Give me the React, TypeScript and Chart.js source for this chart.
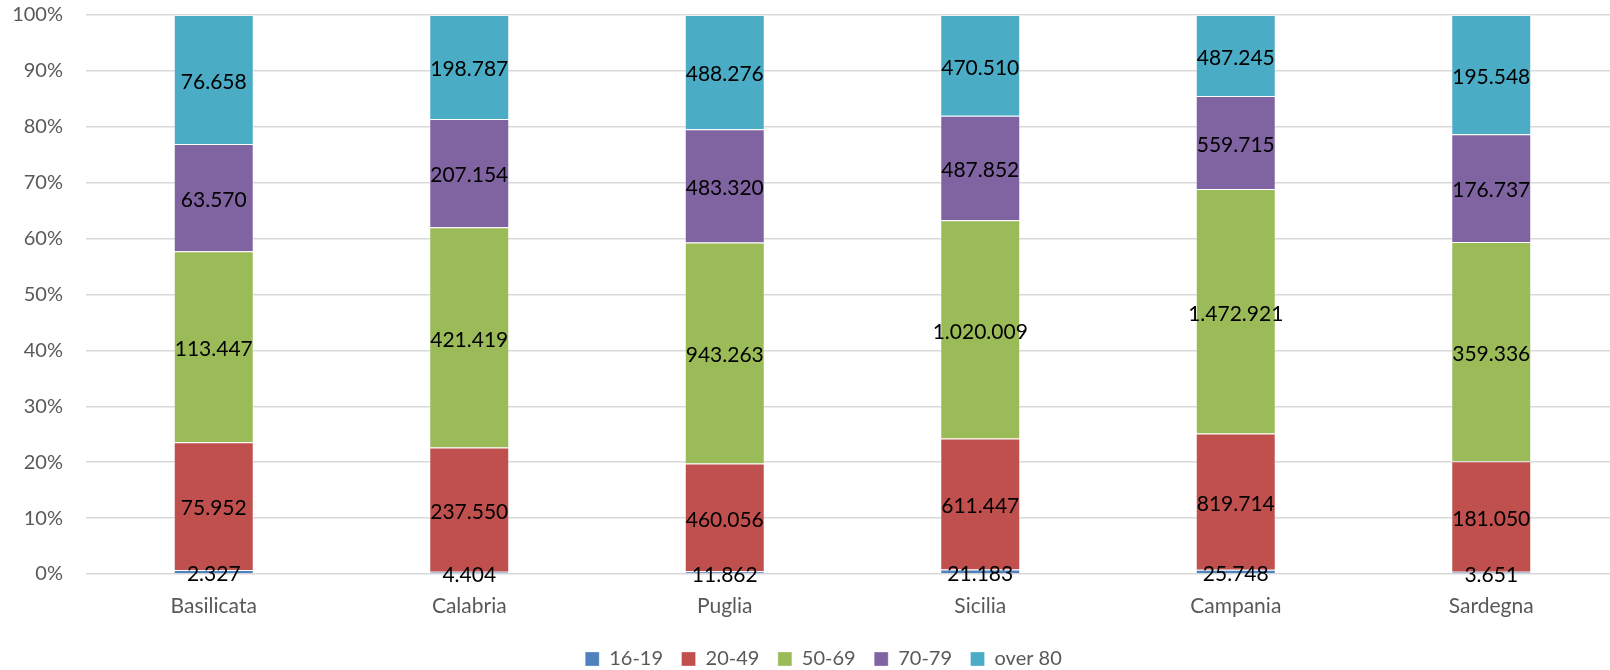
import { useEffect, useRef } from "react";
import { Chart, registerables } from "chart.js";

Chart.register(...registerables);

const regions = ["Basilicata", "Calabria", "Puglia", "Sicilia", "Campania", "Sardegna"];
const ageGroups = ["16-19", "20-49", "50-69", "70-79", "over 80"];
const age16to19 = [2327, 4404, 11862, 21183, 25748, 3651];
const age20to49 = [75952, 237550, 460056, 611447, 819714, 181050];
const age50to69 = [113447, 421419, 943263, 1020009, 1472921, 359336];
const age70to79 = [63570, 207154, 483320, 487852, 559715, 176737];
const ageOver80 = [76658, 198787, 488276, 470510, 487245, 195548];
const seriesColors = ["#4f81bd", "#c0504d", "#9bbb59", "#8064a2", "#4bacc6"];
const yTickValues = [0, 10, 20, 30, 40, 50, 60, 70, 80, 90, 100];

const rawSeries = [age16to19, age20to49, age50to69, age70to79, ageOver80];
const totals = regions.map((_, i) => rawSeries.reduce((s, arr) => s + arr[i], 0));

const fmt = (n: number) => String(n).replace(/\B(?=(\d{3})+(?!\d))/g, ".");

const segLabels = {
  id: "segLabels",
  afterDatasetsDraw(chart: any) {
    const ctx = chart.ctx;
    ctx.save();
    ctx.font = "21px Lato";
    ctx.fillStyle = "#000000";
    ctx.textAlign = "center";
    ctx.textBaseline = "middle";
    chart.data.datasets.forEach((_: any, di: number) => {
      const meta = chart.getDatasetMeta(di);
      meta.data.forEach((el: any, i: number) => {
        const y = (el.y + el.base) / 2 + 2.5;
        ctx.fillText(fmt(rawSeries[di][i]), el.x, y);
      });
    });
    ctx.restore();
  },
};

export default function App() {
  const ref = useRef<HTMLCanvasElement | null>(null);

  useEffect(() => {
    if (!ref.current) return;
    const font = { family: "Lato", size: 20 };
    const chart = new Chart(ref.current, {
      type: "bar",
      data: {
        labels: regions,
        datasets: ageGroups.map((g, di) => ({
          label: g,
          data: rawSeries[di].map((v, i) => (v / totals[i]) * 100),
          backgroundColor: seriesColors[di],
          borderColor: "rgba(255,255,255,0.3)",
          borderWidth: 1,
          borderSkipped: "bottom",
          categoryPercentage: 1,
          barPercentage: 0.313,
        })),
      },
      options: {
        responsive: false,
        animation: false,
        layout: { padding: { top: 15, left: 0, right: 0, bottom: 0 } },
        plugins: {
          legend: {
            position: "bottom",
            labels: {
              boxWidth: 14,
              boxHeight: 14,
              padding: 18.5,
              color: "#595959",
              font,
            },
          },
          tooltip: { enabled: false },
        },
        scales: {
          x: {
            stacked: true,
            grid: { display: false, drawTicks: false },
            border: { display: false },
            ticks: { color: "#595959", font: { family: "Lato", size: 21 }, padding: 19.5 },
            afterFit: (s: any) => {
              s.height = 56.5;
            },
          },
          y: {
            stacked: true,
            min: 0,
            max: 100,
            afterBuildTicks: (s: any) => {
              s.ticks = yTickValues.map((v) => ({ value: v }));
            },
            ticks: {
              color: "#595959",
              font,
              padding: 23,
              callback: (v: any) => `${v}%`,
            },
            grid: { color: "#d9d9d9", lineWidth: 1.5, drawTicks: false },
            border: { display: false },
            afterFit: (s: any) => {
              s.width = 86;
              s.paddingTop = 0;
              s.paddingBottom = 0;
            },
          },
          y2: {
            position: "right",
            display: true,
            grid: { display: false, drawTicks: false },
            border: { display: false },
            ticks: { display: false },
            afterFit: (s: any) => {
              s.width = 28;
              s.paddingTop = 0;
              s.paddingBottom = 0;
            },
          },
        },
      },
      plugins: [segLabels],
    });
    return () => chart.destroy();
  }, []);

  return (
    <div
      style={{
        position: "fixed",
        left: 0,
        top: 0,
        width: 1610,
        height: 670,
        overflow: "hidden",
        background: "#ffffff",
      }}
    >
      <canvas ref={ref} width={1647} height={679} style={{ display: "block" }} />
    </div>
  );
}
